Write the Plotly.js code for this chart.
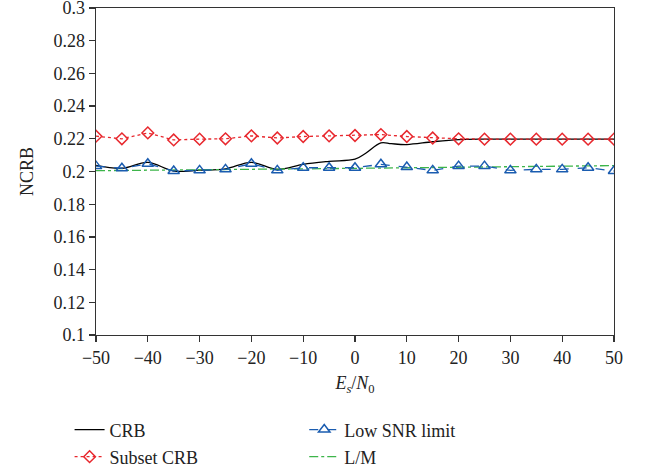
<!DOCTYPE html>
<html>
<head>
<meta charset="utf-8">
<script src="https://cdn.plot.ly/plotly-3.0.1.min.js"></script>
<style>html,body{margin:0;padding:0;background:#fff;}#chart{width:645px;height:469px;}</style>
</head>
<body>
<div id="chart"></div>
<script>
// Data
const xMarks = [-50,-45,-40,-35,-30,-25,-20,-15,-10,-5,0,5,10,15,20,25,30,35,40,45,50];
const crbX = [-50,-45,-40,-35,-30,-25,-20,-15,-10,-5,0,2,5,7,10,15,20,25,30,35,40,45,50];
const crbY = [0.2038,0.2020,0.2056,0.2003,0.2008,0.2016,0.2056,0.2013,0.2044,0.2062,0.2075,0.2110,0.2175,0.2170,0.2165,0.2182,0.2195,0.2198,0.2198,0.2198,0.2198,0.2198,0.2198];
const subsetY = [0.2216,0.2200,0.2236,0.2193,0.2198,0.2200,0.2218,0.2205,0.2214,0.2218,0.2220,0.2226,0.2214,0.2205,0.2200,0.2198,0.2198,0.2198,0.2198,0.2198,0.2198];
const lowSnrY = [0.2033,0.2020,0.2047,0.2003,0.2007,0.2013,0.2047,0.2007,0.2023,0.2023,0.2023,0.2044,0.2027,0.2007,0.2033,0.2033,0.2007,0.2013,0.2013,0.2023,0.2003];
const lmY = [0.2005,0.2007,0.2008,0.2010,0.2011,0.2012,0.2014,0.2015,0.2016,0.2018,0.2019,0.2020,0.2022,0.2023,0.2025,0.2026,0.2028,0.2030,0.2032,0.2034,0.2036];
const yTicks = [0.1,0.12,0.14,0.16,0.18,0.2,0.22,0.24,0.26,0.28,0.3];
const yTickText = ['0.1','0.12','0.14','0.16','0.18','0.2','0.22','0.24','0.26','0.28','0.3'];
const xTicks = [-50,-40,-30,-20,-10,0,10,20,30,40,50];
const xTickText = ['\u221250','\u221240','\u221230','\u221220','\u221210','0','10','20','30','40','50'];

const FONT = 'Liberation Serif, Times New Roman, serif';
const traces = [
  {x: crbX, y: crbY, name: 'CRB', mode: 'lines', line: {color: '#000000', width: 1.3, shape: 'spline', smoothing: 1}, legend: 'legend'},
  {x: xMarks, y: subsetY, name: 'Subset CRB', mode: 'lines+markers', line: {color: '#e8282e', width: 1.3, dash: 'dot'},
   marker: {symbol: 'diamond-open', size: 9, color: '#e8282e', line: {width: 1.5}}, legend: 'legend2'},
  {x: xMarks, y: lmY, name: 'L/M', mode: 'lines', line: {color: '#3db54a', width: 1.3, dash: 'dashdot'}, legend: 'legend4'},
  {x: xMarks, y: lowSnrY, name: 'Low SNR limit', mode: 'lines+markers', line: {color: '#1a5cb0', width: 1.3, dash: 'dash'},
   marker: {symbol: 'triangle-up-open', size: 10, color: '#1a5cb0', line: {width: 1.5}}, legend: 'legend3'}
];
const legBase = {bgcolor: 'rgba(0,0,0,0)', font: {family: FONT, size: 18, color: '#222'}, xanchor: 'left', yanchor: 'middle', itemwidth: 30};
const layout = {
  width: 645, height: 469,
  margin: {l: 96, r: 31, t: 8, b: 134, autoexpand: false},
  paper_bgcolor: '#fff', plot_bgcolor: '#fff',
  font: {family: FONT, size: 18, color: '#222'},
  showlegend: true,
  legend: Object.assign({}, legBase, {x: -0.051, y: -0.29}),
  legend2: Object.assign({}, legBase, {x: -0.051, y: -0.373}),
  legend3: Object.assign({}, legBase, {x: 0.402, y: -0.29}),
  legend4: Object.assign({}, legBase, {x: 0.402, y: -0.373}),
  xaxis: {
    range: [-50, 50], tickvals: xTicks, ticktext: xTickText,
    showgrid: false, zeroline: false, showline: true, linecolor: '#333', linewidth: 1.3,
    mirror: true, ticks: 'outside', ticklen: 6, tickcolor: '#333', tickwidth: 1.3,
    ticklabeloverflow: 'allow',
    tickfont: {family: FONT, size: 18, color: '#222'},
    title: {text: '<i>E<sub>s</sub></i>/<i>N</i><sub>0</sub>', font: {family: FONT, size: 18, color: '#222'}, standoff: 9}
  },
  yaxis: {
    range: [0.09999, 0.30001], tickvals: yTicks, ticktext: yTickText,
    showgrid: false, zeroline: false, showline: true, linecolor: '#333', linewidth: 1.3,
    mirror: true, ticks: 'outside', ticklen: 6, tickcolor: '#333', tickwidth: 1.3,
    ticklabeloverflow: 'allow',
    tickfont: {family: FONT, size: 18, color: '#222'},
    title: {text: 'NCRB', font: {family: FONT, size: 18, color: '#222'}, standoff: 15}
  }
};
Plotly.newPlot('chart', traces, layout, {displayModeBar: false, staticPlot: true});
</script>
</body>
</html>
